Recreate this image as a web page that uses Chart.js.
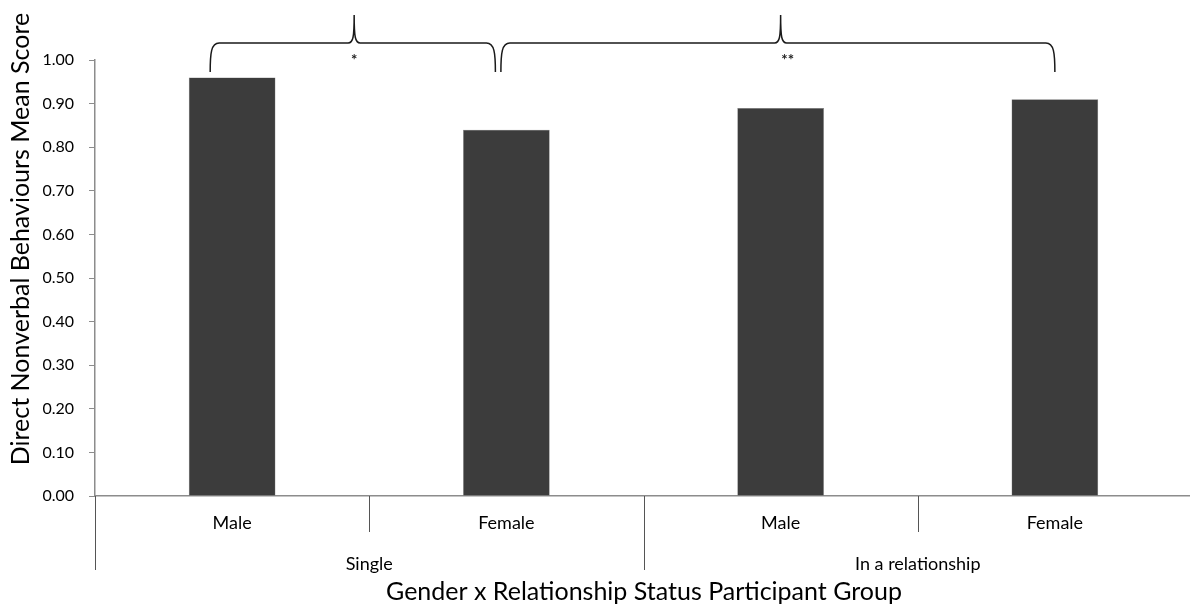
<!DOCTYPE html>
<html>
<head>
<meta charset="utf-8">
<script src="https://cdn.jsdelivr.net/npm/chart.js@4.4.1/dist/chart.umd.min.js"></script>
<style>
  html, body { margin: 0; padding: 0; background: #fff; overflow: hidden; }
  #wrap { width: 1190px; height: 604px; overflow: hidden; }
</style>
</head>
<body>
<div id="wrap"><canvas id="c" width="1200" height="604"></canvas></div>
<script>
// Mean scores per participant group
const categories = ['Male', 'Female', 'Male', 'Female'];
const groups = ['Single', 'In a relationship'];
const groupSpans = [[0, 1], [2, 3]];
const meanScores = [0.96, 0.84, 0.89, 0.91];
const yTickValues = [0, 0.1, 0.2, 0.3, 0.4, 0.5, 0.6, 0.7, 0.8, 0.9, 1.0];
const xTitle = 'Gender x Relationship Status Participant Group';
const yTitle = 'Direct Nonverbal Behaviours Mean Score';

// Significance brackets: [from index, to index, peak index, label]
const brackets = [
  [-0.08, 0.96, 0.445, '*'],
  [0.98, 3.0, 2.0, '**']
];

const FONT = 'Lato, "Open Sans", sans-serif';
const AXIS_GREY = '#8c8c8c';

// Draws group separators, group labels, axis titles and brackets
const groupAxis = {
  id: 'groupAxis',
  afterDraw(chart) {
    const ctx = chart.ctx;
    const x = chart.scales.x;
    const area = chart.chartArea;
    const base = area.bottom;
    ctx.save();
    ctx.strokeStyle = '#555';
    ctx.lineWidth = 1;
    // separators between categories
    for (let i = 0; i <= categories.length; i++) {
      const px = Math.round(x.getPixelForValue(i - 0.5)) + 0.5;
      const isGroupEdge = groupSpans.some(s => s[0] === i || s[1] + 1 === i);
      ctx.beginPath();
      ctx.moveTo(px, base);
      ctx.lineTo(px, base + (isGroupEdge ? 74 : 36));
      ctx.stroke();
    }
    // group labels
    ctx.fillStyle = '#000';
    ctx.font = '18px ' + FONT;
    ctx.textAlign = 'center';
    ctx.textBaseline = 'middle';
    groupSpans.forEach((s, gi) => {
      const cx = (x.getPixelForValue(s[0] - 0.5) + x.getPixelForValue(s[1] + 0.5)) / 2;
      ctx.fillText(groups[gi], cx, base + 68);
    });
    // axis titles
    ctx.font = '25px ' + FONT;
    ctx.fillText(xTitle, 644, base + 96);
    ctx.save();
    ctx.translate(21, (area.top + area.bottom) / 2 - 39);
    ctx.rotate(-Math.PI / 2);
    ctx.fillText(yTitle, 0, 0);
    ctx.restore();

    // curly brackets
    const yLine = area.top - 17;
    const yTip = area.top + 12;
    const yPeak = area.top - 45;
    ctx.strokeStyle = '#1a1a1a';
    ctx.lineWidth = 1.5;
    brackets.forEach(b => {
      const x0 = x.getPixelForValue(b[0]);
      const x1 = x.getPixelForValue(b[1]);
      const xm = x.getPixelForValue(b[2]);
      const r = 9;
      ctx.beginPath();
      ctx.moveTo(x0, yTip);
      ctx.bezierCurveTo(x0, yLine + 10, x0 + 1, yLine, x0 + r, yLine);
      ctx.lineTo(xm - 6, yLine);
      ctx.bezierCurveTo(xm - 1, yLine, xm, yLine - 6, xm, yPeak);
      ctx.bezierCurveTo(xm, yLine - 6, xm + 1, yLine, xm + 6, yLine);
      ctx.lineTo(x1 - r, yLine);
      ctx.bezierCurveTo(x1 - 1, yLine, x1, yLine + 10, x1, yTip);
      ctx.stroke();
      ctx.fillStyle = '#222';
      ctx.font = 'bold 15px ' + FONT;
      ctx.fillText(b[3], xm + (b[3].length > 1 ? 7 : 0), yLine + 17);
    });
    ctx.restore();
  }
};

new Chart(document.getElementById('c'), {
  type: 'bar',
  data: {
    labels: categories,
    datasets: [{
      data: meanScores,
      backgroundColor: '#3c3c3c',
      borderColor: '#7a7a7a',
      borderWidth: 0.5,
      categoryPercentage: 1,
      barPercentage: 0.316
    }]
  },
  options: {
    responsive: false,
    animation: false,
    layout: { padding: { top: 60, right: 8, bottom: 0, left: 0 } },
    plugins: { legend: { display: false }, tooltip: { enabled: false } },
    scales: {
      x: {
        offset: true,
        border: { display: true, color: AXIS_GREY, width: 1.5 },
        grid: { display: false },
        ticks: { color: '#000', font: { size: 18, family: FONT }, padding: 8, maxRotation: 0 },
        afterFit(s) { s.height = 108; }
      },
      y: {
        min: 0,
        max: 1,
        afterBuildTicks(s) { s.ticks = yTickValues.map(v => ({ value: v })); },
        border: { display: true, color: AXIS_GREY, width: 1.5 },
        grid: { drawOnChartArea: false, drawTicks: true, tickLength: 6, color: AXIS_GREY },
        ticks: { color: '#000', font: { size: 16, family: FONT }, padding: 15,
                 callback: v => Number(v).toFixed(2) },
        afterFit(s) { s.width = 95; }
      }
    }
  },
  plugins: [groupAxis]
});
</script>
</body>
</html>
